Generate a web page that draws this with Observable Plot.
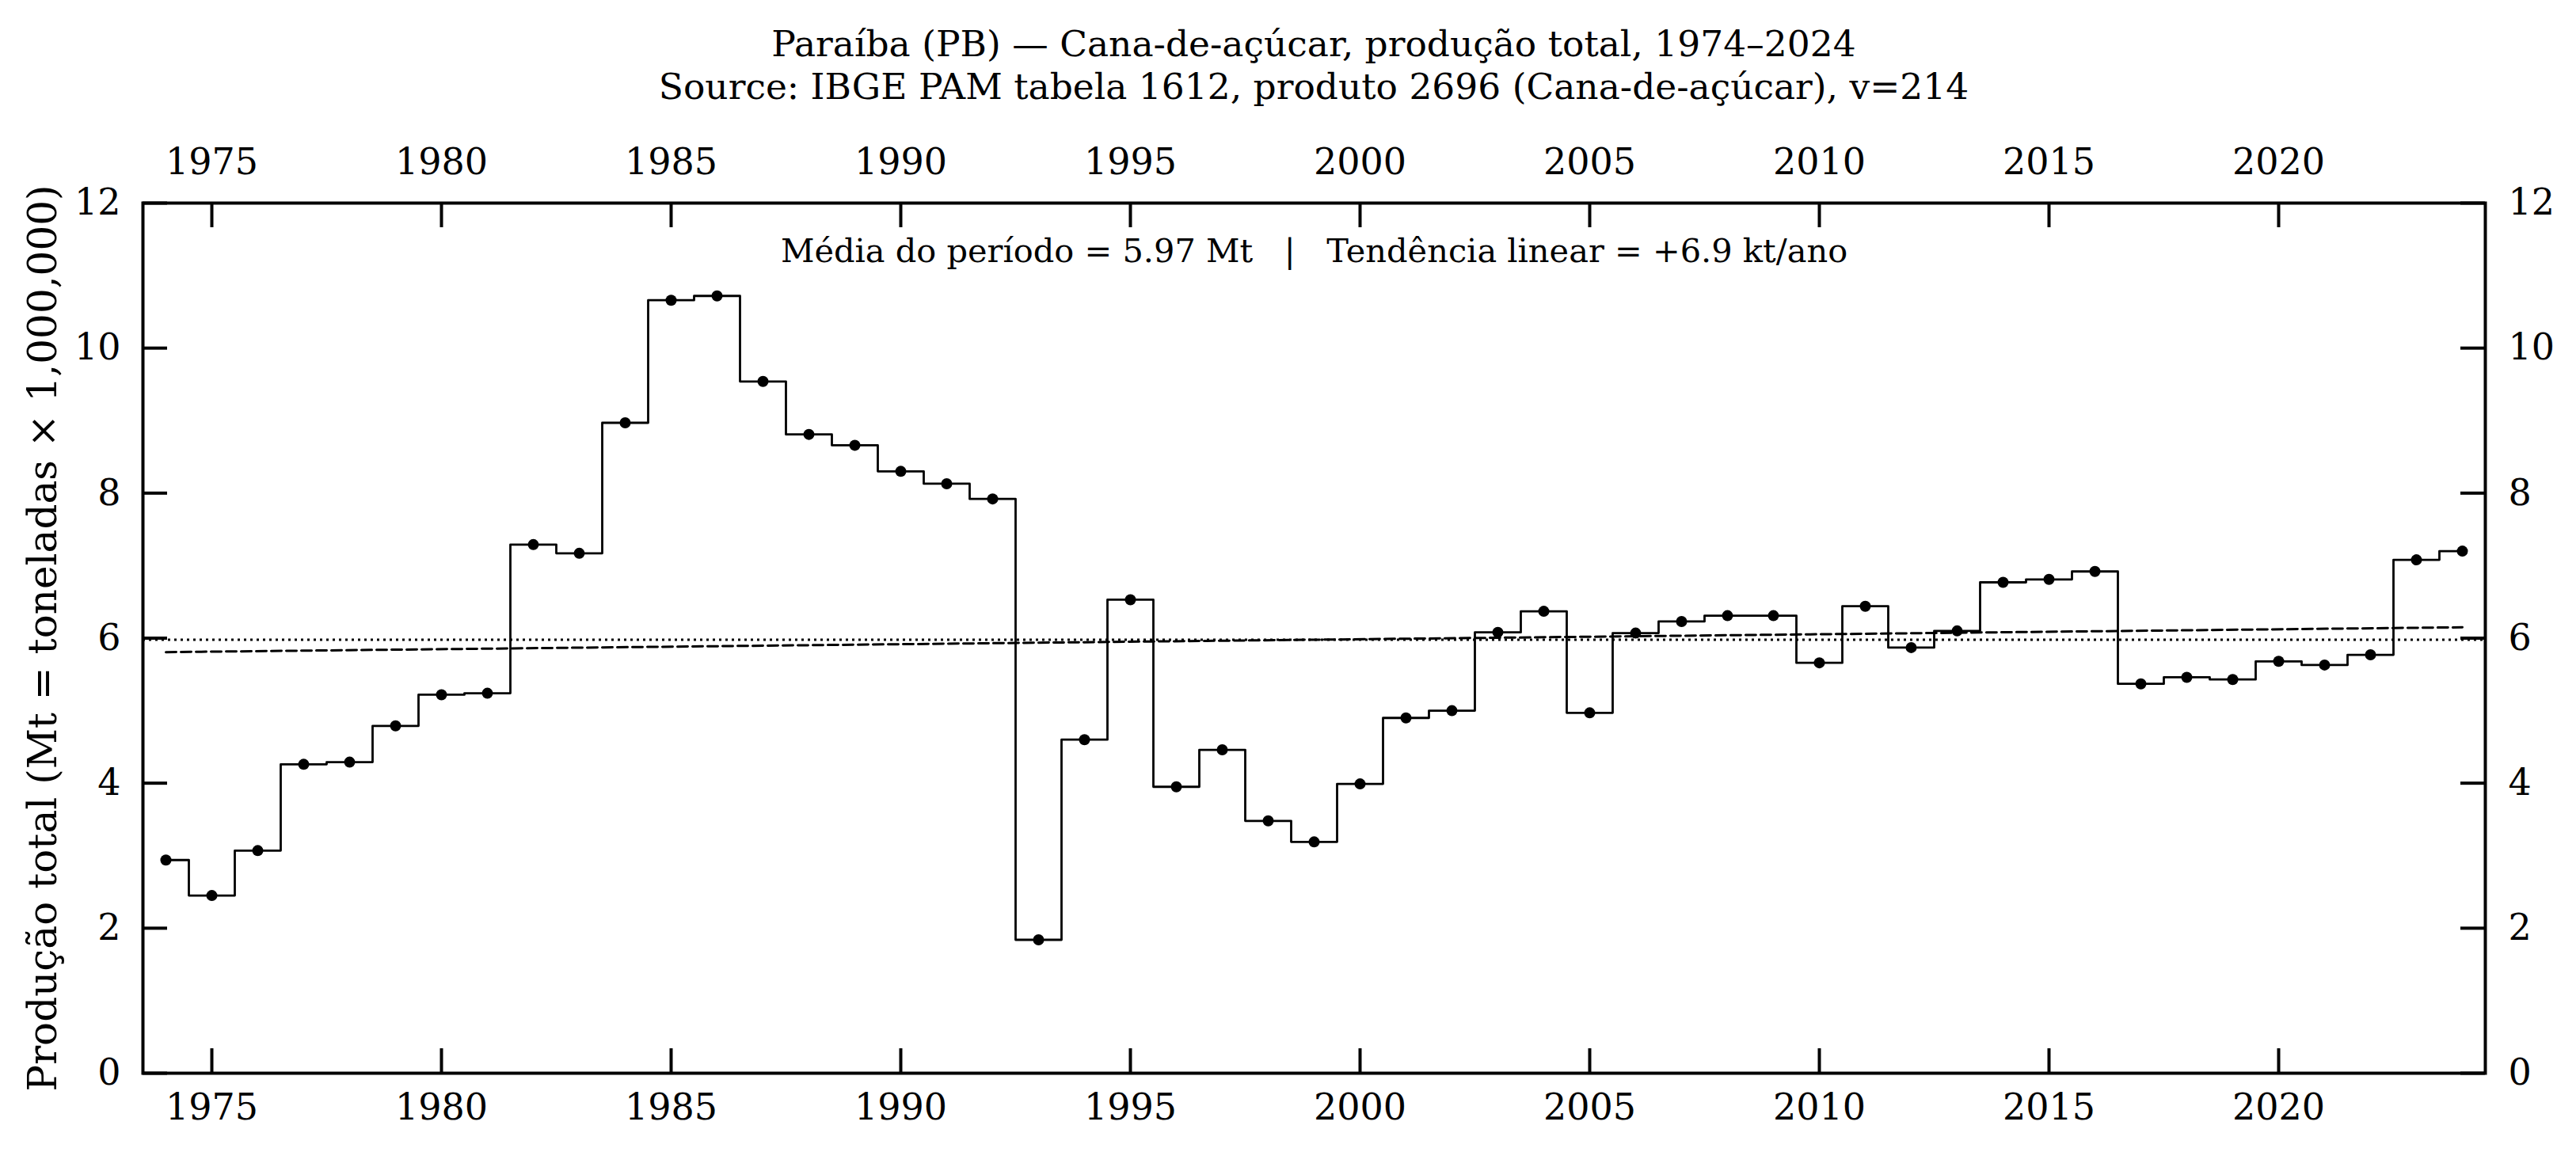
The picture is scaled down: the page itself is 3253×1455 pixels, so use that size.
<!DOCTYPE html>
<html><head><meta charset="utf-8">
<script src="https://cdn.jsdelivr.net/npm/d3@7"></script>
<script src="https://cdn.jsdelivr.net/npm/@observablehq/plot@0.6"></script>
<style>
body{margin:0;background:#fff;}
#wrap{position:relative;width:3253px;height:1455px;font-family:"DejaVu Serif";background:#fff;}
#title{position:absolute;left:180px;width:2958px;top:0;height:150px;text-align:center;font-size:45.5px;line-height:54px;padding-top:29px;box-sizing:border-box;color:#000;white-space:nowrap;}
#chart{position:absolute;left:0;top:150px;}
</style></head><body>
<div id="wrap">
  <div id="title">
    <div>Paraíba (PB) — Cana-de-açúcar, produção total, 1974–2024</div>
    <div>Source: IBGE PAM tabela 1612, produto 2696 (Cana-de-açúcar), v=214</div>
  </div>
  <div id="chart"></div>
</div>
<script>
const years = [1974,1975,1976,1977,1978,1979,1980,1981,1982,1983,
  1984,1985,1986,1987,1988,1989,1990,1991,1992,1993,
  1994,1995,1996,1997,1998,1999,2000,2001,2002,2003,
  2004,2005,2006,2007,2008,2009,2010,2011,2012,2013,
  2014,2015,2016,2017,2018,2019,2020,2021,2022,2023,2024];
const values = [2.94,2.45,3.07,4.26,4.29,4.79,5.22,5.24,7.29,7.17,
  8.97,10.66,10.72,9.54,8.81,8.66,8.30,8.13,7.92,1.84,
  4.60,6.53,3.95,4.46,3.48,3.19,3.99,4.90,5.00,6.08,
  6.37,4.97,6.07,6.23,6.31,6.31,5.66,6.44,5.87,6.10,
  6.77,6.81,6.92,5.37,5.46,5.43,5.68,5.63,5.77,7.08,7.20];
const xTicks = [1975,1980,1985,1990,1995,2000,2005,2010,2015,2020];
const yTicks = [0,2,4,6,8,10,12];
const xDomain = [1973.5, 2024.5];
const yDomain = [0, 12];
const annotation = "Média do período = 5.97 Mt\u00a0\u00a0\u00a0|\u00a0\u00a0\u00a0Tendência linear = +6.9 kt/ano";
const yLabel = "Produção total (Mt = toneladas × 1,000,000)";

const data = years.map((year, i) => ({year, value: values[i]}));
const meanValue = d3.mean(values);
const fmt = d => String(d);

const W = 3253, H = 1305, mT = 106, mB = 100, mL = 180, mR = 115;
const frameW = W - mL - mR, frameH = H - mT - mB;
const tickLen = 31; // px, inward
const tickLenY = tickLen * (yDomain[1] - yDomain[0]) / frameH;
const tickLenX = tickLen * (xDomain[1] - xDomain[0]) / frameW;
const tickStyle = {stroke: "black", strokeWidth: 4};
const textAxis = (mk, anchor, ticks, pad) => mk({anchor, ticks, tickSize: 0, tickPadding: pad, tickFormat: fmt, fontSize: 46, label: null});

const plot = Plot.plot({
  width: W, height: H,
  marginTop: mT, marginBottom: mB, marginLeft: mL, marginRight: mR,
  style: {fontFamily: "DejaVu Serif", fontSize: "46px", background: "white", color: "black"},
  x: {domain: xDomain, label: null},
  y: {domain: yDomain, label: null},
  marks: [
    Plot.ruleY([meanValue], {stroke: "black", strokeWidth: 3, strokeDasharray: "3,5"}),
    Plot.linearRegressionY(data, {x: "year", y: "value", ci: 0, stroke: "black", strokeWidth: 3, strokeDasharray: "13,6"}),
    Plot.line(data, {x: "year", y: "value", curve: "step", stroke: "black", strokeWidth: 2.8}),
    Plot.dot(data, {x: "year", y: "value", r: 7, fill: "black", stroke: "none"}),
    // inward ticks on all four sides
    Plot.ruleX(xTicks, {x: d => d, y1: yDomain[0], y2: yDomain[0] + tickLenY, ...tickStyle}),
    Plot.ruleX(xTicks, {x: d => d, y1: yDomain[1], y2: yDomain[1] - tickLenY, ...tickStyle}),
    Plot.ruleY(yTicks, {y: d => d, x1: xDomain[0], x2: xDomain[0] + tickLenX, ...tickStyle}),
    Plot.ruleY(yTicks, {y: d => d, x1: xDomain[1], x2: xDomain[1] - tickLenX, ...tickStyle}),
    textAxis(Plot.axisX, "bottom", xTicks, 26),
    textAxis(Plot.axisX, "top", xTicks, 37),
    textAxis(Plot.axisY, "left", yTicks, 28),
    textAxis(Plot.axisY, "right", yTicks, 29),
    Plot.frame({stroke: "black", strokeWidth: 4}),
    Plot.text([annotation], {text: d => d, frameAnchor: "top", dy: 74, lineAnchor: "bottom", fontSize: 41.5, fill: "black"}),
    Plot.text([yLabel], {text: d => d, frameAnchor: "left", rotate: -90, dx: -126, lineAnchor: "middle", textAnchor: "middle", fontSize: 50, fill: "black"})
  ]
});
document.getElementById("chart").appendChild(plot);
</script>
</body></html>
